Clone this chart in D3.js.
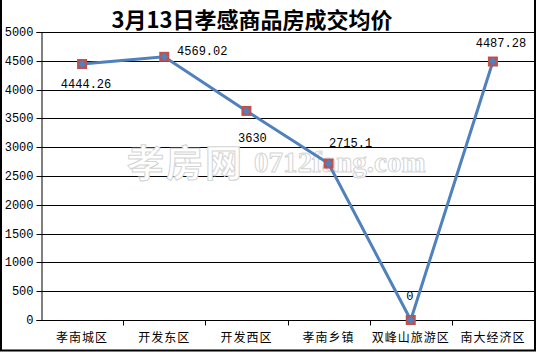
<!DOCTYPE html>
<html><head><meta charset="utf-8">
<script src="https://cdn.jsdelivr.net/npm/d3@7/dist/d3.min.js"></script>
<style>body{margin:0;background:#fff}svg{display:block}</style>
</head><body>
<script>
const categories = ["孝南城区","开发东区","开发西区","孝南乡镇","双峰山旅游区","南大经济区"];
const values = [4444.26, 4569.02, 3630, 2715.1, 0, 4487.28];
const valueLabels = ["4444.26","4569.02","3630","2715.1","0","4487.28"];
const yTicks = [0,500,1000,1500,2000,2500,3000,3500,4000,4500,5000];
const title = "3月13日孝感商品房成交均价";

const W = 537, H = 352;
const svg = d3.select("body").append("svg").attr("width", W).attr("height", H);

const x = d3.scaleBand().domain(categories).range([41, 534]);
const y = d3.scaleLinear().domain([0, 5000]).range([320, 32]);

// frame
svg.append("path").attr("d", `M1,0V350.5H535V0`).attr("fill","none").attr("stroke","#000").attr("stroke-width",2);

// gridlines
svg.append("g").selectAll("line").data(yTicks.filter(d=>d>0)).join("line")
  .attr("x1",41).attr("x2",534).attr("y1",d=>Math.round(y(d))+0.5).attr("y2",d=>Math.round(y(d))+0.5)
  .attr("stroke","#000").attr("stroke-width",1);

// watermark
const wm = svg.append("g").attr("fill","#fff").attr("stroke","#d4d4d4").attr("stroke-width",1);
wm.append("text").attr("x",127).attr("y",177).attr("font-family","Noto Sans CJK SC").attr("font-weight","bold")
  .attr("font-size",37).attr("letter-spacing",2).text("孝房网");
wm.append("text").attr("x",254).attr("y",172).attr("font-family","Liberation Serif").attr("font-weight","bold")
  .attr("font-size",29).text("0712fang.com");

// y axis
const yAxis = d3.axisLeft(y).tickValues(yTicks).tickSize(5).tickPadding(3).tickFormat(d3.format("d"));
const ya = svg.append("g").attr("transform","translate(41.5,0)").call(yAxis);
ya.select(".domain").attr("stroke","#000");
ya.selectAll(".tick line").attr("stroke","#000");
ya.selectAll("text").attr("font-family","Liberation Mono, DejaVu Sans Mono").attr("font-size",12).attr("fill","#000");
ya.selectAll(".tick").attr("transform", d=>`translate(0,${Math.round(y(d))+0.5})`);

// x axis
const xa = svg.append("g").attr("transform","translate(0,320.5)");
xa.append("line").attr("x1",41).attr("x2",534).attr("stroke","#000");
const bounds = categories.map(c=>x(c)).concat([x(categories[5])+x.bandwidth()]);
xa.selectAll("line.t").data(bounds.slice(1)).join("line").attr("class","t")
  .attr("x1",d=>Math.round(d)+0.5).attr("x2",d=>Math.round(d)+0.5).attr("y1",0).attr("y2",5).attr("stroke","#000");
xa.selectAll("text").data(categories).join("text")
  .attr("x",d=>x(d)+x.bandwidth()/2).attr("y",21).attr("text-anchor","middle")
  .attr("font-family","Noto Sans CJK SC").attr("font-size",12).attr("letter-spacing",1).attr("fill","#000").text(d=>d);

// title
svg.append("text").attr("x",252).attr("y",28).attr("text-anchor","middle")
  .attr("font-family","Noto Sans CJK SC").attr("font-weight","bold").attr("font-size",22).attr("fill","#000").text(title);

// line
const cx = (d,i)=>x(categories[i])+x.bandwidth()/2;
const line = d3.line().x((d,i)=>cx(d,i)).y(d=>y(d));
svg.append("path").datum(values).attr("d",line).attr("fill","none").attr("stroke","#4F81BD").attr("stroke-width",3);

// markers
svg.append("g").selectAll("rect").data(values).join("rect")
  .attr("x",(d,i)=>cx(d,i)-5).attr("y",d=>y(d)-5).attr("width",10).attr("height",10).attr("fill","#C0504D");
svg.append("g").selectAll("path").data(values).join("path")
  .attr("transform",(d,i)=>`translate(${cx(d,i)},${y(d)})`)
  .attr("d",d3.symbol().type(d3.symbolDiamond2).size(40)).attr("fill","#4F81BD");

// data labels (offset of label centre / baseline from point)
const labelOffsets = [[4,24],[38,-2],[6,31],[22,-17],[-1,-20],[8,-15]];
svg.append("g").selectAll("text").data(values).join("text")
  .attr("x",(d,i)=>cx(d,i)+labelOffsets[i][0]).attr("y",(d,i)=>y(d)+labelOffsets[i][1])
  .attr("text-anchor","middle").attr("font-family","Liberation Mono, DejaVu Sans Mono").attr("font-size",12).attr("fill","#000")
  .text((d,i)=>valueLabels[i]);
</script>
</body></html>
